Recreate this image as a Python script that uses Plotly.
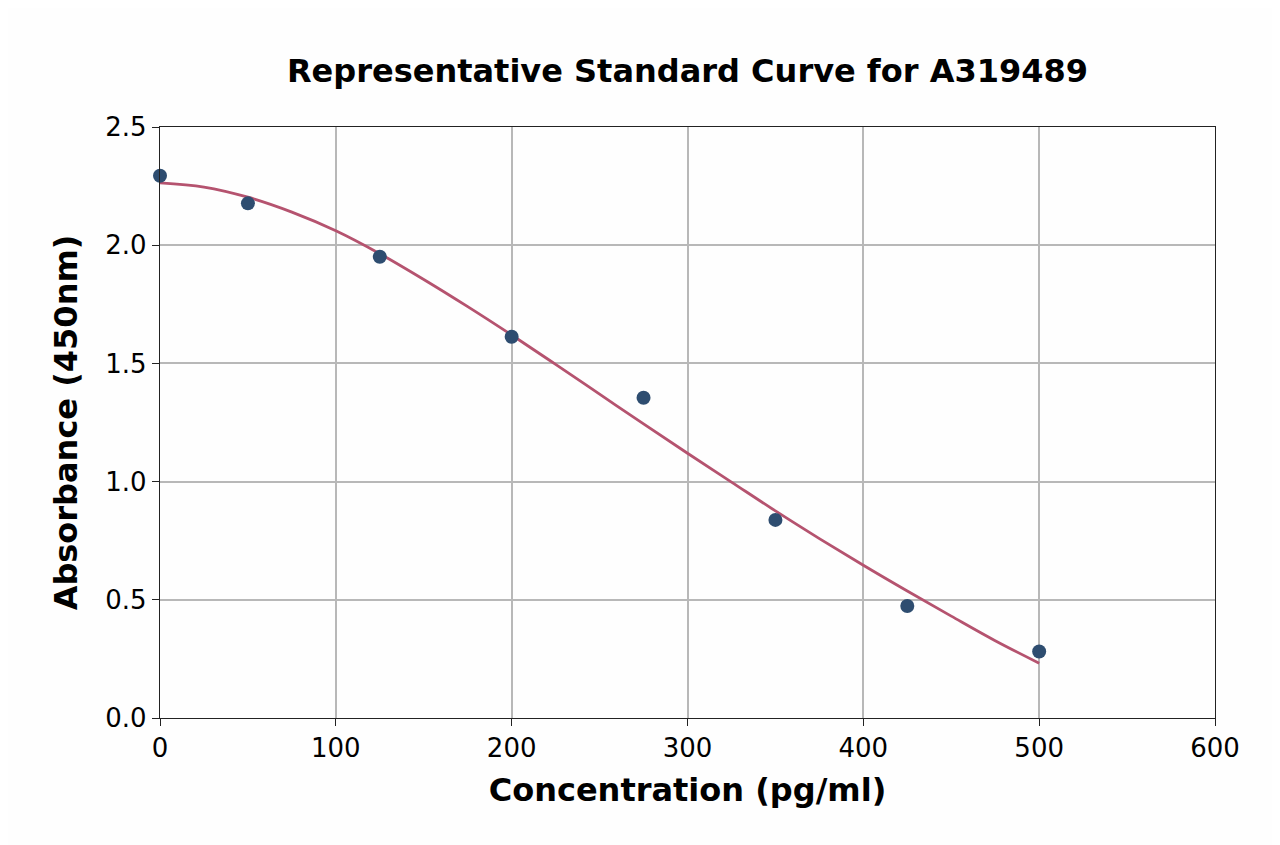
import plotly.graph_objects as go

# Measured standards
conc = [0, 50, 125, 200, 275, 350, 425, 500]
absorb = [2.294, 2.177, 1.951, 1.613, 1.355, 0.838, 0.474, 0.281]

# Fitted curve
curve_x = [0, 25, 50, 75, 100, 125, 150, 175, 200, 225, 250, 275, 300, 325, 350, 375, 400, 425, 450, 475, 500]
curve_y = [2.264, 2.246, 2.203, 2.140, 2.061, 1.964, 1.855, 1.740, 1.620, 1.496, 1.370, 1.244, 1.120, 0.998,
           0.876, 0.759, 0.646, 0.537, 0.431, 0.327, 0.232]

x_ticks = [0, 100, 200, 300, 400, 500, 600]
y_ticks = [0.0, 0.5, 1.0, 1.5, 2.0, 2.5]

FONT = "DejaVu Sans"

fig = go.Figure()
fig.add_trace(go.Scatter(
    x=curve_x, y=curve_y, mode="lines", line=dict(color="#b5536f", width=2.8, shape="spline", smoothing=1.0),
    showlegend=False, hoverinfo="skip"))
fig.add_trace(go.Scatter(
    x=conc, y=absorb, mode="markers", marker=dict(color="#2e4d70", size=14),
    showlegend=False, cliponaxis=False))

axis_common = dict(
    showline=True, linecolor="#222222", linewidth=1.4, mirror=True,
    ticks="outside", ticklen=7, tickwidth=1.3, tickcolor="#222222",
    showgrid=True, gridcolor="#b8b8b8", gridwidth=1.5,
    zeroline=False, tickfont=dict(family=FONT, size=26, color="black"),
)

fig.update_layout(
    width=1280, height=845,
    paper_bgcolor="#fefefe", plot_bgcolor="#fefefe",
    margin=dict(l=152, r=73, t=119, b=135),
    title=dict(text="<b>Representative Standard Curve for A319489</b>",
               x=(152 + 1207) / 2 / 1280, xanchor="center", y=1 - 63 / 845, yanchor="middle",
               font=dict(family=FONT, size=32, color="black")),
    xaxis=dict(range=[0, 600], tickvals=x_ticks, ticktext=[str(v) for v in x_ticks],
               title=dict(text="<b>Concentration (pg/ml)</b>", font=dict(family=FONT, size=32, color="black"), standoff=16),
               **axis_common),
    yaxis=dict(range=[0, 2.5], tickvals=y_ticks, ticktext=[f"{v:.1f}" for v in y_ticks],
               title=dict(text="<b>Absorbance (450nm)</b>", font=dict(family=FONT, size=32, color="black"), standoff=18),
               **axis_common),
)

fig.write_html("out.html")
